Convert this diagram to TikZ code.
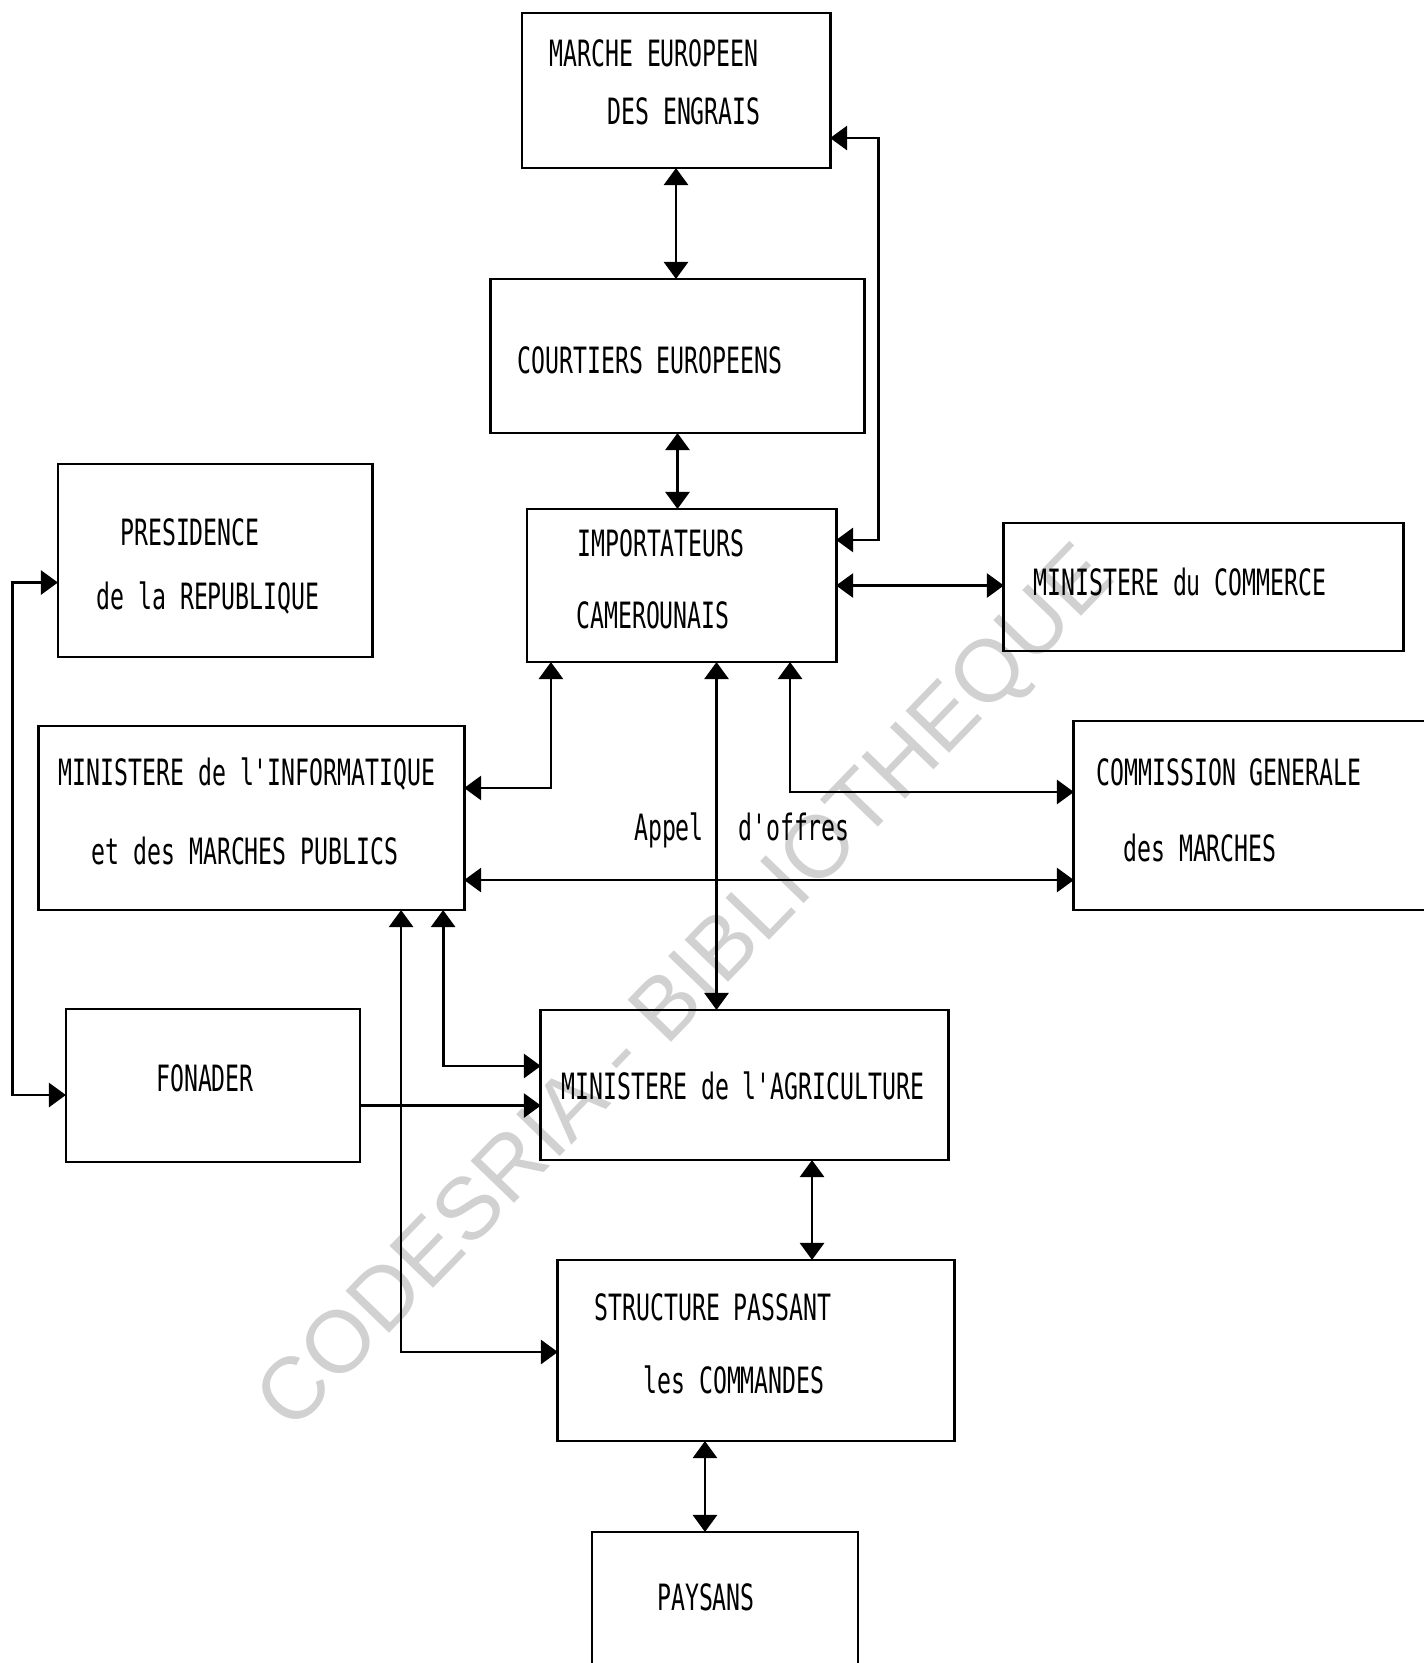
\documentclass[tikz,border=0pt]{standalone}
\usepackage{fontspec}
\newfontfamily\traceurfont{DejaVu Sans Mono}[FakeStretch=0.64]
\newfontfamily\filigrane{Liberation Sans}
\usetikzlibrary{arrows.meta}
\newcommand{\traceur}{\traceurfont\fontsize{10.3}{12}\selectfont}
\tikzset{
  boite/.style={draw, line width=0.8pt, inner sep=0pt, outer sep=0pt},
  texte/.style={inner sep=0pt, anchor=base, font=\traceur},
  fleche/.style={line width=0.8pt, >={Triangle[length=1.7mm,width=2.4mm]}, <->},
  simple/.style={line width=0.8pt, >={Triangle[length=1.7mm,width=2.4mm]}, ->}
}
\begin{document}
\begin{tikzpicture}[x=0.01cm,y=-0.01cm]
    \useasboundingbox (0,0) rectangle (1424,1663);
    % filigrane
    \node[rotate=46, text=black!18, font=\filigrane\fontsize{25}{30}\selectfont] (wm) at (689,991) {CODESRIA - BIBLIOTHEQUE};
    % boites
    \node[boite, minimum width=3.08cm, minimum height=1.55cm] (marche) at (676,90.5) {};
    \node[boite, minimum width=3.73cm, minimum height=1.54cm] (courtiers) at (677.5,356) {};
    \node[boite, minimum width=3.09cm, minimum height=1.53cm] (import) at (681.5,585.5) {};
    \node[boite, minimum width=3.99cm, minimum height=1.28cm] (commerce) at (1203.5,587) {};
    \node[boite, minimum width=3.14cm, minimum height=1.93cm] (presidence) at (215,560.5) {};
    \node[boite, minimum width=4.25cm, minimum height=1.84cm] (informatique) at (251.5,818) {};
    \node[boite, minimum width=3.66cm, minimum height=1.89cm] (commission) at (1257,815.5) {};
    \node[boite, minimum width=2.94cm, minimum height=1.53cm] (fonader) at (213,1085.5) {};
    \node[boite, minimum width=4.07cm, minimum height=1.50cm] (agriculture) at (744.5,1085) {};
    \node[boite, minimum width=3.96cm, minimum height=1.81cm] (structure) at (756,1350.5) {};
    \node[boite, minimum width=2.66cm, minimum height=1.68cm] (paysans) at (725,1616) {};
    % textes
    \node[texte] (t1a) at (654,66) {MARCHE EUROPEEN};
    \node[texte] (t1b) at (684,124) {DES ENGRAIS};
    \node[texte] (t2) at (650,373) {COURTIERS EUROPEENS};
    \node[texte] (t3a) at (661,556) {IMPORTATEURS};
    \node[texte] (t3b) at (653,628) {CAMEROUNAIS};
    \node[texte] (t4) at (1180,595) {MINISTERE du COMMERCE};
    \node[texte] (t5a) at (190,545) {PRESIDENCE};
    \node[texte] (t5b) at (208,609) {de la REPUBLIQUE};
    \node[texte] (t6a) at (247,785) {MINISTERE de l'INFORMATIQUE};
    \node[texte] (t6b) at (245,864) {et des MARCHES PUBLICS};
    \node[texte] (t7a) at (1229,785) {COMMISSION GENERALE};
    \node[texte] (t7b) at (1200,861) {des MARCHES};
    \node[texte] (t8) at (205,1091) {FONADER};
    \node[texte] (t9) at (743,1099) {MINISTERE de l'AGRICULTURE};
    \node[texte] (t10a) at (713,1320) {STRUCTURE PASSANT};
    \node[texte] (t10b) at (734,1393) {les COMMANDES};
    \node[texte] (t11) at (706,1610) {PAYSANS};
    \node[texte] (appel) at (669,840) {Appel};
    \node[texte] (offres) at (794,840) {d'offres};
    % liaisons
    \coordinate (ao) at ([xshift=0.35cm]import.south);
    \coordinate (im) at ([yshift=0.30cm]informatique.south east);
    \coordinate (fo) at ([yshift=-0.2cm]fonader.east);
    \draw[fleche] (marche.south) -- (marche.south |- courtiers.north);
    \draw[fleche] (courtiers.south) -- (courtiers.south |- import.north);
    \draw[fleche] ([yshift=-0.31cm]import.north east) -- ++(0.42cm,0) |- ([yshift=0.30cm]marche.south east);
    \draw[fleche] (import.east) -- (import.east -| commerce.west);
    \draw[fleche] ([xshift=0.24cm]import.south west) |- ([yshift=-0.62cm]informatique.north east);
    \draw[fleche] (ao) -- (ao |- agriculture.north);
    \draw[fleche] ([xshift=2.63cm]import.south west) |- ([yshift=-0.71cm]commission.north west);
    \draw[fleche] (im) -- (im -| commission.west);
    \draw[fleche] ([yshift=-0.22cm]presidence.west) -- ++(-0.45cm,0) |- ([yshift=-0.095cm]fonader.west);
    \draw[fleche] ([xshift=-0.21cm]informatique.south east) |- ([yshift=-0.56cm]agriculture.north west);
    \draw[fleche] ([xshift=-0.63cm]informatique.south east) |- ([yshift=-0.92cm]structure.north west);
    \draw[simple] (fo) -- (fo -| agriculture.west);
    \draw[fleche] ([xshift=2.71cm]agriculture.south west) -- ([xshift=2.71cm]agriculture.south west |- structure.north);
    \draw[fleche] ([xshift=1.47cm]structure.south west) -- ([xshift=1.47cm]structure.south west |- paysans.north);
\end{tikzpicture}
\end{document}
